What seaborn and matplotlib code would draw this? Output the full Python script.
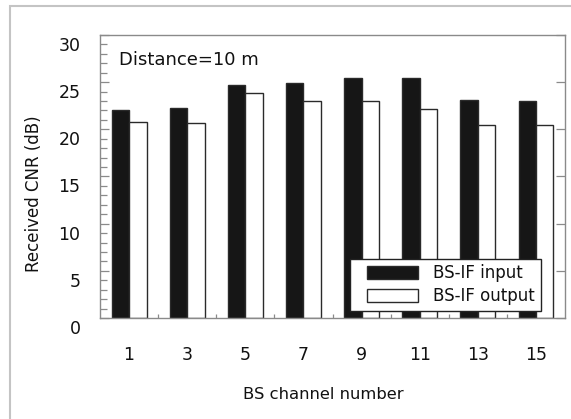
import matplotlib
matplotlib.use("Agg")
import matplotlib.pyplot as plt
import matplotlib.transforms as mtransforms
from matplotlib.patches import Rectangle
from matplotlib.ticker import MultipleLocator, FixedLocator
import numpy as np
import pandas as pd
import seaborn as sns

# BS channel numbers and received CNR (dB) at the BS-IF input / output
channels = ["1", "3", "5", "7", "9", "11", "13", "15"]
cnr_input = [22.1, 22.3, 24.7, 24.9, 25.4, 25.4, 23.1, 23.0]
cnr_output = [20.8, 20.7, 23.8, 23.0, 23.0, 22.2, 20.5, 20.5]
series_names = ["BS-IF input", "BS-IF output"]

df = pd.DataFrame({
    "channel": channels * 2,
    "cnr": cnr_input + cnr_output,
    "signal": [series_names[0]] * len(channels) + [series_names[1]] * len(channels),
})

sns.set_style("white")
plt.rcParams["font.family"] = ["DejaVu Sans"]
plt.rcParams["text.color"] = "#111111"
plt.rcParams["axes.labelcolor"] = "#111111"
plt.rcParams["xtick.labelcolor"] = "#111111"
plt.rcParams["ytick.labelcolor"] = "#111111"

W, H = 571, 419
fig = plt.figure(figsize=(W / 100, H / 100), dpi=100)
ax = fig.add_axes([100 / W, (H - 318) / H, 465 / W, 283 / H])

sns.barplot(
    data=df, x="channel", y="cnr", hue="signal", order=channels,
    hue_order=series_names,
    palette={series_names[0]: "#161616", series_names[1]: "white"},
    edgecolor="#2a2a2a", linewidth=1.0, width=0.6, ax=ax,
)

ax.set_ylim(0, 30)
ax.set_xlim(-0.5, len(channels) - 0.5)

# frame
for sp in ax.spines.values():
    sp.set_visible(True)
    sp.set_color("#8a8a8a")
    sp.set_linewidth(1.0)

# y ticks: major every 5, minor every 1, inward; right side majors only
ax.yaxis.set_major_locator(MultipleLocator(5))
ax.yaxis.set_minor_locator(MultipleLocator(1))
ax.tick_params(axis="y", which="major", direction="in", length=6.5, width=0.9,
               color="#8a8a8a", left=True, right=True, labelsize=12.5, pad=14)
ax.tick_params(axis="y", which="minor", direction="in", length=4.8, width=0.9,
               color="#8a8a8a", left=True, right=False)

# x ticks: labels at group centres, short inward marks between groups
ax.tick_params(axis="x", which="major", length=0, labelsize=12.5, pad=20)
ax.xaxis.set_minor_locator(FixedLocator(np.arange(0.5, len(channels) - 1, 1.0)))
ax.tick_params(axis="x", which="minor", direction="in", length=3.2, width=0.9,
               color="#8a8a8a", bottom=True, top=False)

# y tick labels sit slightly below their ticks
shift = mtransforms.ScaledTranslation(0, -9 / 100, fig.dpi_scale_trans)
for lab in ax.get_yticklabels():
    lab.set_transform(lab.get_transform() + shift)

ax.set_xlabel("BS channel number", fontsize=11.8)
ax.set_ylabel("Received CNR (dB)", fontsize=12)
ax.xaxis.set_label_coords(0.48, -0.245)
ax.yaxis.set_label_coords(-0.122, 0.44)

ax.text(0.041, 0.912, "Distance=10 m", transform=ax.transAxes,
        fontsize=13, va="center", ha="left")

# legend box drawn as a patch, entries placed on top without their own frame
ax.add_patch(Rectangle((0.538, 0.025), 0.410, 0.183, transform=ax.transAxes,
                       facecolor="white", edgecolor="#222222", linewidth=1.0,
                       zorder=4))
leg = ax.legend(
    loc="lower right", bbox_to_anchor=(0.948, 0.025), borderaxespad=0,
    fontsize=12, frameon=False, handlelength=3.1,
    handleheight=0.85, handletextpad=0.9, labelspacing=0.3,
    borderpad=0.35, title=None,
)
leg.set_zorder(5)

# outer light-grey border
fig.add_artist(Rectangle((10 / W, -0.2), 1.2, (H - 6) / H + 0.2,
                         transform=fig.transFigure, fill=False,
                         edgecolor="#c4c4c4", linewidth=1.5, clip_on=False))

fig.savefig("out.png", dpi=100)
